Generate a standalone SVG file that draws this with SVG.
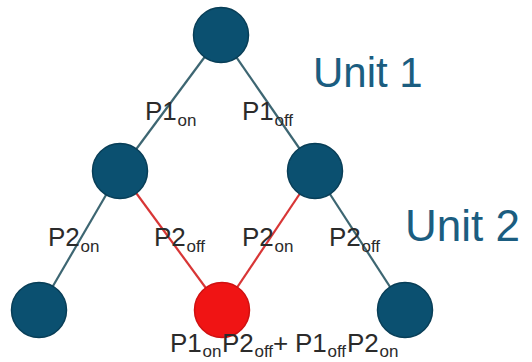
<svg xmlns="http://www.w3.org/2000/svg" width="532" height="362" viewBox="0 0 532 362">
<style>
.e{stroke:#3d6672;stroke-width:2.2;fill:none}
.r{stroke:#d83636;stroke-width:2.2;fill:none}
.n{fill:#0b5070;stroke:#083e57;stroke-width:1.5}
.red{fill:#f01414;stroke:#d01010;stroke-width:1.5}
.t{font-family:"Liberation Sans",Arial,sans-serif;fill:#2b2b2b;font-size:26px}
.s{font-size:17px}
.u{font-family:"Liberation Sans",Arial,sans-serif;fill:#1b5d80;font-size:44px}
</style>
<rect width="532" height="362" fill="#fff"/>
<g id="connectors">
<line class="e" x1="221" y1="35" x2="120" y2="171"/>
<line class="e" x1="221" y1="35" x2="315" y2="171"/>
<line class="e" x1="120" y1="171" x2="39" y2="310"/>
<line class="r" x1="120" y1="171" x2="222" y2="310"/>
<line class="r" x1="315" y1="171" x2="222" y2="310"/>
<line class="e" x1="315" y1="171" x2="405" y2="310"/>
</g>
<g id="root"><circle class="n" cx="221" cy="35" r="27.5"/></g>
<g id="left"><circle class="n" cx="120" cy="171" r="27.5"/></g>
<g id="right"><circle class="n" cx="315" cy="171" r="27.5"/></g>
<g id="leafLL"><circle class="n" cx="39" cy="310" r="27.5"/></g>
<g id="leafMid"><circle class="red" cx="222" cy="310" r="27.5"/></g>
<g id="leafRR"><circle class="n" cx="405" cy="310" r="27.5"/></g>
<g id="labels">
<text class="t" x="145" y="120">P1</text><text class="t s" x="177.5" y="126">on</text>
<text class="t" x="242" y="120">P1</text><text class="t s" x="274.5" y="126">off</text>
<text class="t" x="48" y="246">P2</text><text class="t s" x="80.5" y="252">on</text>
<text class="t" x="154" y="246">P2</text><text class="t s" x="186.5" y="252">off</text>
<text class="t" x="242" y="246">P2</text><text class="t s" x="274.5" y="252">on</text>
<text class="t" x="329" y="246">P2</text><text class="t s" x="361.5" y="252">off</text>
<text class="t" x="170" y="352">P1</text><text class="t s" x="202.5" y="357">on</text>
<text class="t" x="222" y="352">P2</text><text class="t s" x="254.5" y="357">off</text>
<text class="t" x="273" y="352">+</text>
<text class="t" x="295" y="352">P1</text><text class="t s" x="327.5" y="357">off</text>
<text class="t" x="347" y="352">P2</text><text class="t s" x="379.5" y="357">on</text>
</g>
<text class="u" x="313" y="87" style="font-size:42px">Unit 1</text>
<text class="u" x="405" y="241">Unit 2</text>
</svg>
